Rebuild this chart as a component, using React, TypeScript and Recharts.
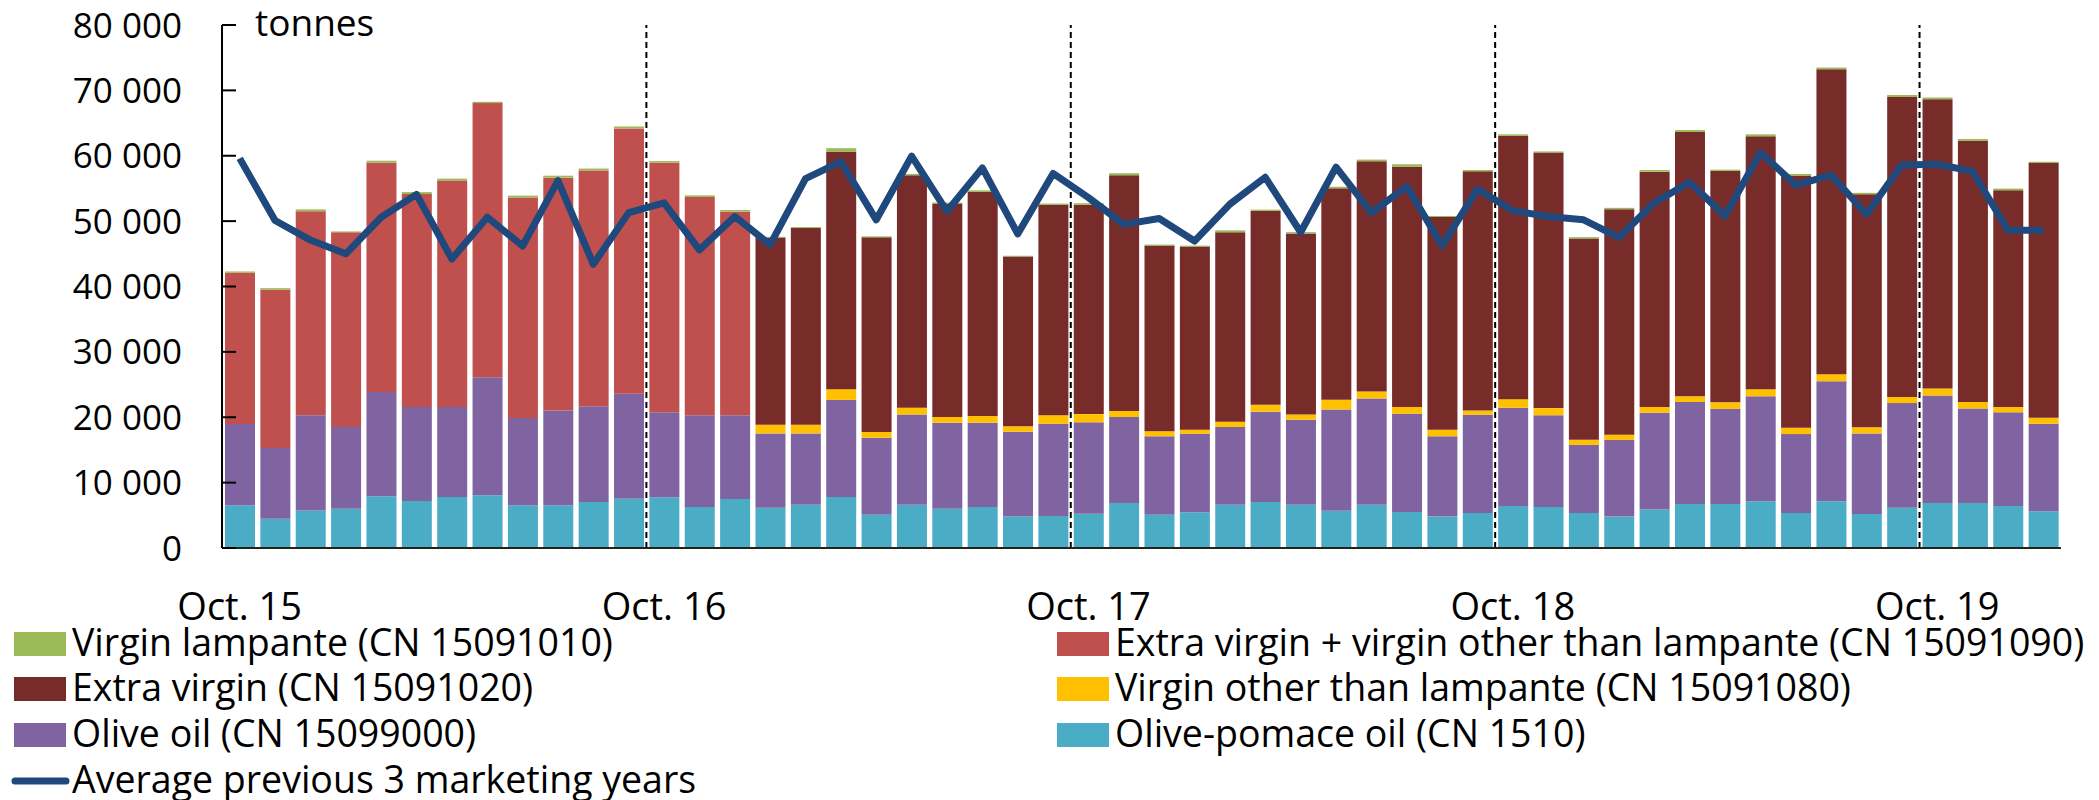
import { Bar, ComposedChart, Line, ReferenceLine, XAxis, YAxis } from "recharts";

const FONT = "'Open Sans', 'Noto Sans', sans-serif";

const months = [
	"Oct. 15", "Nov. 15", "Dec. 15", "Jan. 16", "Feb. 16", "Mar. 16", "Apr. 16", "May 16", "Jun. 16", "Jul. 16", "Aug. 16", "Sep. 16",
	"Oct. 16", "Nov. 16", "Dec. 16", "Jan. 17", "Feb. 17", "Mar. 17", "Apr. 17", "May 17", "Jun. 17", "Jul. 17", "Aug. 17", "Sep. 17",
	"Oct. 17", "Nov. 17", "Dec. 17", "Jan. 18", "Feb. 18", "Mar. 18", "Apr. 18", "May 18", "Jun. 18", "Jul. 18", "Aug. 18", "Sep. 18",
	"Oct. 18", "Nov. 18", "Dec. 18", "Jan. 19", "Feb. 19", "Mar. 19", "Apr. 19", "May 19", "Jun. 19", "Jul. 19", "Aug. 19", "Sep. 19",
	"Oct. 19", "Nov. 19", "Dec. 19", "Jan. 20",
];

// tonnes per month
const pomace = [
	6550, 4480, 5730, 6000, 7920, 7200, 7800, 8080, 6550, 6550, 7040, 7540,
	7750, 6280, 7480, 6170, 6610, 7810, 5080, 6610, 6010, 6280, 4800, 4910,
	5240, 6880, 5080, 5460, 6610, 7040, 6610, 5680, 6610, 5520, 4800, 5350,
	6440, 6280, 5350, 4800, 5900, 6720, 6720, 7150, 5350, 7150, 5190, 6170,
	6880, 6880, 6440, 5620,
];
const oliveOil = [
	12400, 10810, 14580, 12500, 15940, 14370, 13770, 18020, 13320, 14470, 14640, 16050,
	13000, 14030, 12830, 11360, 10920, 14850, 11790, 13810, 13160, 12890, 13000, 14090,
	13980, 13160, 12010, 12010, 11900, 13820, 13020, 15510, 16270, 15010, 12290, 15020,
	15020, 14030, 10430, 11740, 14790, 15610, 14570, 16060, 12070, 18350, 12340, 16000,
	16430, 14470, 14310, 13380,
];
const virginOther = [
	0, 0, 0, 0, 0, 0, 0, 0, 0, 0, 0, 0,
	0, 0, 0, 1310, 1310, 1640, 880, 1040, 870, 1030, 820, 1310,
	1260, 930, 760, 600, 820, 1040, 790, 1470, 1040, 1040, 980, 650,
	1310, 1090, 760, 770, 880, 880, 990, 1090, 980, 1090, 930, 930,
	1100, 980, 820, 930,
];
const evPlusVirgin = [
	23150, 24210, 31190, 29780, 35080, 32570, 34630, 41950, 33730, 35630, 36060, 40590,
	38190, 33390, 31140, 0, 0, 0, 0, 0, 0, 0, 0, 0,
	0, 0, 0, 0, 0, 0, 0, 0, 0, 0, 0, 0,
	0, 0, 0, 0, 0, 0, 0, 0, 0, 0, 0, 0,
	0, 0, 0, 0,
];
const extraVirgin = [
	0, 0, 0, 0, 0, 0, 0, 0, 0, 0, 0, 0,
	0, 0, 0, 28670, 30100, 36300, 29770, 35560, 32660, 34260, 25950, 32180,
	32010, 36060, 28410, 28030, 28960, 29660, 27700, 32350, 35240, 36730, 32560, 36600,
	40260, 39110, 30820, 34520, 36000, 40430, 35400, 38680, 38570, 46650, 35670, 45890,
	44250, 39940, 33160, 38950,
];
const lampante = [
	200, 250, 300, 150, 300, 300, 300, 200, 300, 300, 300, 300,
	250, 250, 250, 100, 150, 550, 150, 200, 150, 250, 150, 200,
	250, 300, 150, 150, 300, 200, 200, 250, 250, 400, 150, 200,
	250, 150, 200, 200, 250, 300, 200, 300, 250, 250, 200, 300,
	250, 300, 250, 200,
];
const average = [
	59600, 50100, 47100, 45000, 50600, 54100, 44200, 50600, 46200, 56200, 43400, 51300,
	52800, 45600, 50700, 46400, 56500, 59100, 50200, 59950, 51500, 58150, 48050, 57300,
	53600, 49500, 50400, 46950, 52600, 56700, 48300, 58250, 51300, 55300, 46250, 54900,
	51600, 50700, 50200, 47500, 52800, 55950, 50800, 60500, 55500, 57050, 51050, 58600,
	58700, 57600, 48600, 48600,
];

const yTicks = [0, 10000, 20000, 30000, 40000, 50000, 60000, 70000, 80000];
const yearStarts = ["Oct. 16", "Oct. 17", "Oct. 18", "Oct. 19"];

const data = months.map((month, i) => ({
	month,
	pomace: pomace[i],
	oliveOil: oliveOil[i],
	virginOther: virginOther[i],
	evPlusVirgin: evPlusVirgin[i],
	extraVirgin: extraVirgin[i],
	lampante: lampante[i],
	average: average[i],
}));

const COLORS = {
	lampante: "#9BBB59",
	evPlusVirgin: "#C0504D",
	extraVirgin: "#772C2A",
	virginOther: "#FFC000",
	oliveOil: "#8064A2",
	pomace: "#4BACC6",
	average: "#1F497D",
};

const leftLegend = [
	{ label: "Virgin lampante (CN 15091010)", color: COLORS.lampante },
	{ label: "Extra virgin (CN 15091020)", color: COLORS.extraVirgin },
	{ label: "Olive oil (CN 15099000)", color: COLORS.oliveOil },
];
const rightLegend = [
	{ label: "Extra virgin + virgin other than lampante (CN 15091090)", color: COLORS.evPlusVirgin },
	{ label: "Virgin other than lampante (CN 15091080)", color: COLORS.virginOther },
	{ label: "Olive-pomace oil (CN 1510)", color: COLORS.pomace },
];

const fmt = (v: number) => String(v).replace(/\B(?=(\d{3})+(?!\d))/g, " ");

const YTick = (props: any) => {
	const { x, y, payload } = props;
	return (
		<g>
			<line x1={x + 40} x2={x + 54} y1={y} y2={y} stroke="#000" strokeWidth={2} />
			<text x={x} y={y} dy="0.36em" textAnchor="end" fontSize={35} fontFamily={FONT} fill="#000">
				{fmt(payload.value)}
			</text>
		</g>
	);
};

const rowY = [656, 701, 747, 793];

const App = () => {
	return (
		<div style={{ position: "relative", width: 2099, height: 800, overflow: "hidden", background: "#fff" }}>
			<style>{`body { margin: 0; }`}</style>
			<ComposedChart
				width={2099}
				height={800}
				data={data}
				margin={{ top: 25, right: 38, left: 0, bottom: 172 }}
				style={{ fontFamily: FONT }}
			>
				<XAxis
					dataKey="month"
					interval={11}
					tickLine={false}
					tickSize={0}
					tickMargin={45}
					height={80}
					axisLine={{ stroke: "#222", strokeWidth: 2 }}
					tick={{ fill: "#000", fontSize: 38, fontFamily: FONT }}
				/>
				<YAxis
					domain={[0, 80000]}
					ticks={yTicks}
					interval={0}
					width={222}
					tickLine={false}
					tickSize={0}
					tickMargin={40}
					axisLine={{ stroke: "#000", strokeWidth: 2 }}
					tick={<YTick />}
				/>
				{yearStarts.map((m) => (
					<ReferenceLine
						key={m}
						x={m}
						position="start"
						stroke="#000"
						strokeWidth={2}
						strokeDasharray="6 4"
					/>
				))}
				<Bar dataKey="pomace" stackId="a" fill={COLORS.pomace} barSize={30} isAnimationActive={false} />
				<Bar dataKey="oliveOil" stackId="a" fill={COLORS.oliveOil} barSize={30} isAnimationActive={false} />
				<Bar dataKey="virginOther" stackId="a" fill={COLORS.virginOther} barSize={30} isAnimationActive={false} />
				<Bar dataKey="evPlusVirgin" stackId="a" fill={COLORS.evPlusVirgin} barSize={30} isAnimationActive={false} />
				<Bar dataKey="extraVirgin" stackId="a" fill={COLORS.extraVirgin} barSize={30} isAnimationActive={false} />
				<Bar dataKey="lampante" stackId="a" fill={COLORS.lampante} barSize={30} isAnimationActive={false} />
				<Line
					type="linear"
					dataKey="average"
					stroke={COLORS.average}
					strokeWidth={7}
					strokeLinejoin="round"
					dot={false}
					activeDot={false}
					isAnimationActive={false}
				/>
			</ComposedChart>
			<svg
				width={2099}
				height={800}
				style={{ position: "absolute", left: 0, top: 0, pointerEvents: "none" }}
				fontFamily={FONT}
				fontSize={37.5}
			>
				<text x={255} y={36} fill="#000" fontSize={37}>tonnes</text>
				{leftLegend.map((item, i) => (
					<g key={item.label}>
						<rect x={14} y={rowY[i] - 24} width={52} height={24} fill={item.color} />
						<text x={72} y={rowY[i]} fill="#000">{item.label}</text>
					</g>
				))}
				<line x1={15} x2={66} y1={rowY[3] - 12} y2={rowY[3] - 12} stroke={COLORS.average} strokeWidth={7} strokeLinecap="round" />
				<text x={72} y={rowY[3]} fill="#000">Average previous 3 marketing years</text>
				{rightLegend.map((item, i) => (
					<g key={item.label}>
						<rect x={1057} y={rowY[i] - 24} width={52} height={24} fill={item.color} />
						<text x={1115} y={rowY[i]} fill="#000">{item.label}</text>
					</g>
				))}
			</svg>
		</div>
	);
};

export default App;
